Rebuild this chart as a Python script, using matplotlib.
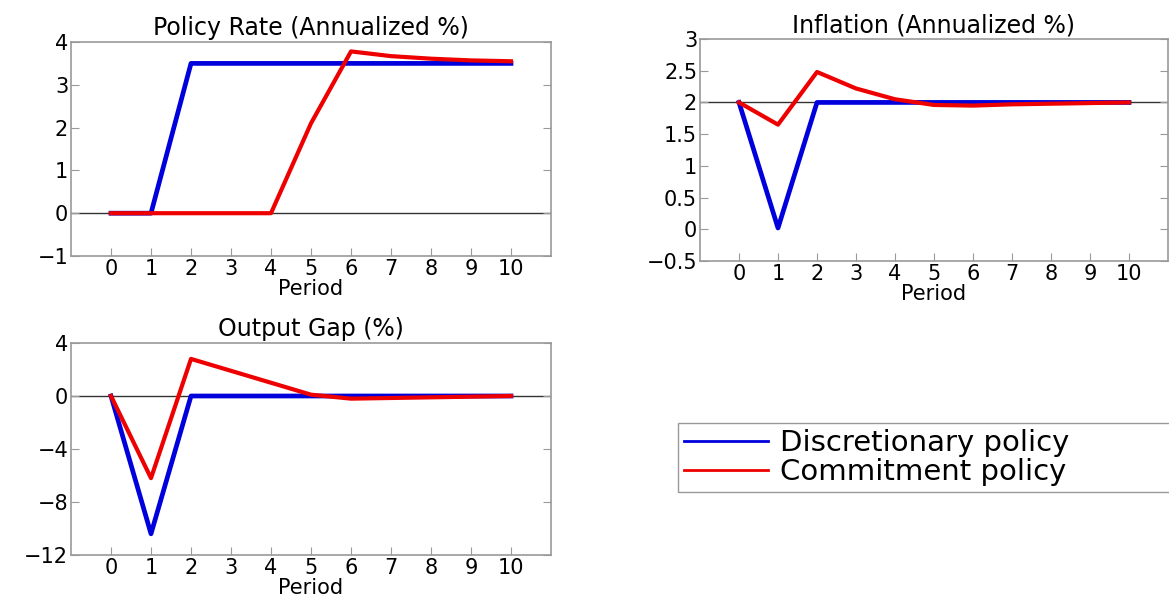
import matplotlib
matplotlib.use("Agg")
import matplotlib.pyplot as plt

periods = [0, 1, 2, 3, 4, 5, 6, 7, 8, 9, 10]

# policy rate (annualized %)
rate_disc = [0, 0, 3.5, 3.5, 3.5, 3.5, 3.5, 3.5, 3.5, 3.5, 3.5]
rate_comm = [0, 0, 0, 0, 0, 2.1, 3.78, 3.67, 3.61, 3.57, 3.55]

# inflation (annualized %)
infl_disc = [2, 0.02, 2, 2, 2, 2, 2, 2, 2, 2, 2]
infl_comm = [2, 1.65, 2.48, 2.22, 2.05, 1.96, 1.95, 1.97, 1.98, 1.99, 2.0]

# output gap (%)
gap_disc = [0, -10.4, 0, 0, 0, 0, 0, 0, 0, 0, 0]
gap_comm = [0, -6.2, 2.8, 1.9, 1.0, 0.1, -0.2, -0.15, -0.1, -0.05, 0]

blue = "#0000dd"
red = "#ee0000"

plt.rcParams["font.family"] = "DejaVu Sans"

fig = plt.figure(figsize=(11.69, 5.98), dpi=100)


def panel(rect, title, disc, comm, ylim, yticks, yticklabels, ref):
    ax = fig.add_axes(rect)
    ax.axhline(ref, color="#333333", lw=1, zorder=1)
    ax.plot(periods, disc, color=blue, lw=3.4, zorder=2)
    ax.plot(periods, comm, color=red, lw=3.0, zorder=3)
    ax.set_xlim(-1, 11)
    ax.set_ylim(*ylim)
    ax.set_xticks(periods)
    ax.set_yticks(yticks)
    ax.set_yticklabels(yticklabels)
    ax.set_title(title, fontsize=17, pad=5)
    ax.set_xlabel("Period", fontsize=15, labelpad=0)
    ax.tick_params(direction="in", length=6, color="#999999", labelsize=15,
                   right=True, pad=2)
    for s in ax.spines.values():
        s.set_color("#999999")
        s.set_linewidth(1.2)
    return ax


panel([71 / 1169, 1 - 256 / 598, 480 / 1169, 214 / 598],
      "Policy Rate (Annualized %)", rate_disc, rate_comm,
      (-1, 4), [-1, 0, 1, 2, 3, 4], ["\u22121", "0", "1", "2", "3", "4"], 0)

panel([700 / 1169, 1 - 261 / 598, 468 / 1169, 222 / 598],
      "Inflation (Annualized %)", infl_disc, infl_comm,
      (-0.5, 3), [-0.5, 0, 0.5, 1, 1.5, 2, 2.5, 3],
      ["\u22120.5", "0", "0.5", "1", "1.5", "2", "2.5", "3"], 2)

panel([71 / 1169, 1 - 555 / 598, 480 / 1169, 212 / 598],
      "Output Gap (%)", gap_disc, gap_comm,
      (-12, 4), [-12, -8, -4, 0, 4], ["\u221212", "\u22128", "\u22124", "0", "4"], 0)

# legend box runs on past the right edge of the figure
handles = [plt.Line2D([], [], color=blue, lw=2),
           plt.Line2D([], [], color=red, lw=2)]
leg = fig.legend(handles, ["Discretionary policy", "Commitment policy"],
                 loc="upper left",
                 bbox_to_anchor=(678 / 1169, 1 - 488 / 598, 500 / 1169, 65 / 598),
                 mode="expand", borderaxespad=0, fontsize=21, handlelength=2.9,
                 handletextpad=0.4, labelspacing=0.05, borderpad=0.2,
                 fancybox=False, edgecolor="#999999", framealpha=1)

fig.savefig("out.png", dpi=100)
